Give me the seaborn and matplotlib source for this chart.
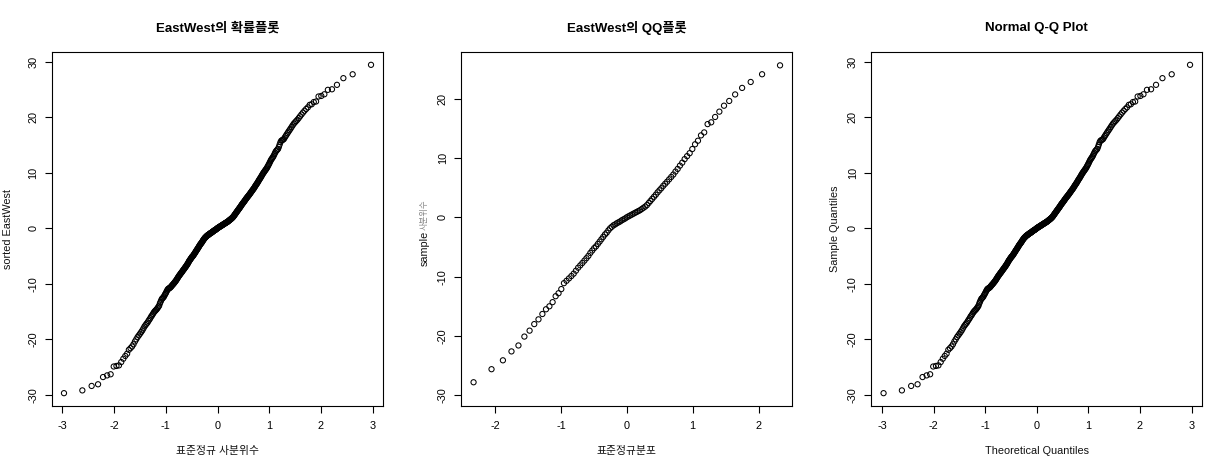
from statistics import NormalDist

import numpy as np
import pandas as pd
import matplotlib
matplotlib.use("Agg")
import matplotlib.pyplot as plt
import seaborn as sns

# sorted EastWest values (n = 336)
east_west_sorted = [
    -29.7, -29.2, -28.4, -28.1, -26.8, -26.5, -26.3, -24.9, -24.8, -24.7,
    -24.1, -23.5, -23.0, -22.6, -21.9, -21.6, -21.3, -20.9, -20.4, -20.0,
    -19.6, -19.3, -19.0, -18.7, -18.4, -18.05, -17.7, -17.45, -17.2, -17.0,
    -16.7, -16.45, -16.2, -15.9, -15.7, -15.45, -15.2, -15.0, -14.85, -14.7,
    -14.55, -14.35, -14.15, -13.95, -13.55, -13.25, -12.95, -12.7, -12.6, -12.45,
    -12.3, -12.05, -11.85, -11.65, -11.4, -11.2, -11.0, -10.9, -10.85, -10.75,
    -10.7, -10.6, -10.45, -10.35, -10.2, -10.1, -10.0, -9.85, -9.75, -9.6,
    -9.5, -9.35, -9.2, -9.05, -8.9, -8.75, -8.6, -8.5, -8.35, -8.25,
    -8.1, -8.0, -7.9, -7.75, -7.65, -7.5, -7.4, -7.3, -7.15, -7.05,
    -6.95, -6.8, -6.7, -6.55, -6.45, -6.3, -6.15, -6.0, -5.85, -5.75,
    -5.65, -5.5, -5.4, -5.3, -5.15, -5.1, -5.0, -4.9, -4.8, -4.65,
    -4.55, -4.45, -4.3, -4.2, -4.05, -3.95, -3.85, -3.7, -3.6, -3.5,
    -3.35, -3.25, -3.1, -3.0, -2.9, -2.8, -2.7, -2.6, -2.5, -2.4,
    -2.25, -2.15, -2.05, -1.95, -1.85, -1.75, -1.7, -1.6, -1.55, -1.48,
    -1.4, -1.33, -1.29, -1.24, -1.2, -1.14, -1.08, -1.02, -0.97, -0.93,
    -0.88, -0.84, -0.79, -0.75, -0.7, -0.64, -0.58, -0.52, -0.47, -0.43,
    -0.38, -0.34, -0.3, -0.25, -0.21, -0.15, -0.09, -0.03, 0.02, 0.07,
    0.11, 0.16, 0.2, 0.25, 0.29, 0.33, 0.38, 0.42, 0.47, 0.51,
    0.56, 0.6, 0.65, 0.69, 0.74, 0.78, 0.83, 0.87, 0.92, 0.96,
    1.0, 1.05, 1.09, 1.14, 1.18, 1.24, 1.3, 1.36, 1.42, 1.48,
    1.53, 1.59, 1.65, 1.71, 1.77, 1.84, 1.92, 1.99, 2.07, 2.17,
    2.28, 2.38, 2.48, 2.59, 2.69, 2.8, 2.9, 3.01, 3.11, 3.22,
    3.32, 3.42, 3.53, 3.63, 3.74, 3.84, 3.96, 4.08, 4.2, 4.31,
    4.41, 4.52, 4.62, 4.72, 4.83, 4.94, 5.06, 5.17, 5.29, 5.4,
    5.5, 5.61, 5.71, 5.81, 5.92, 6.03, 6.14, 6.26, 6.38, 6.5,
    6.62, 6.74, 6.86, 6.98, 7.1, 7.22, 7.37, 7.52, 7.67, 7.8,
    7.94, 8.07, 8.22, 8.38, 8.55, 8.71, 8.86, 9.0, 9.16, 9.33,
    9.51, 9.68, 9.85, 10.0, 10.15, 10.3, 10.45, 10.6, 10.75, 10.93,
    11.14, 11.35, 11.56, 11.8, 12.04, 12.28, 12.46, 12.64, 12.82, 13.04,
    13.31, 13.58, 13.83, 13.98, 14.13, 14.28, 14.64, 15.06, 15.48, 15.74,
    15.83, 15.92, 16.03, 16.3, 16.57, 16.83, 17.1, 17.37, 17.64, 17.91,
    18.21, 18.51, 18.81, 19.04, 19.28, 19.52, 19.82, 20.14, 20.47, 20.8,
    21.13, 21.45, 21.75, 22.2, 22.3, 22.7, 22.8, 23.7, 23.8, 24.1,
    24.9, 25.0, 25.8, 27.0, 27.7, 29.4,
]

# sample percentiles at p = 0.01 ... 0.99 (middle panel)
qq_probs = [round(k / 100, 2) for k in range(1, 100)]
qq_sample = [
    -27.8, -25.6, -24.1, -22.6, -21.6, -20.1, -19.1, -18.0, -17.2, -16.3,
    -15.5, -15.0, -14.3, -13.3, -12.8, -12.1, -11.1, -10.7, -10.3, -9.9,
    -9.5, -9.0, -8.5, -8.1, -7.7, -7.3, -6.9, -6.5, -6.0, -5.6,
    -5.2, -4.9, -4.5, -4.1, -3.7, -3.3, -2.9, -2.6, -2.2, -1.85,
    -1.6, -1.35, -1.2, -1.0, -0.85, -0.7, -0.5, -0.35, -0.2, 0.0,
    0.15, 0.3, 0.45, 0.6, 0.75, 0.9, 1.05, 1.2, 1.4, 1.6,
    1.8, 2.05, 2.4, 2.75, 3.1, 3.45, 3.8, 4.2, 4.55, 4.9,
    5.3, 5.65, 6.0, 6.4, 6.8, 7.2, 7.7, 8.15, 8.7, 9.2,
    9.8, 10.3, 10.8, 11.5, 12.3, 12.9, 13.8, 14.3, 15.7, 16.0,
    16.9, 17.8, 18.8, 19.6, 20.7, 21.8, 22.8, 24.1, 25.6,
]

TITLES = ["EastWest의 확률플롯", "EastWest의 QQ플롯", "Normal Q-Q Plot"]
XLABELS = ["표준정규 사분위수", "표준정규분포", "Theoretical Quantiles"]

sns.set_style("ticks")
FONTS = ["Liberation Sans", "Noto Sans CJK KR", "DejaVu Sans"]
plt.rcParams["font.family"] = FONTS
plt.rcParams["axes.unicode_minus"] = False

nd = NormalDist()
n = len(east_west_sorted)
# R ppoints(n) for n > 10
theo = [nd.inv_cdf((i + 0.5) / n) for i in range(n)]
full_df = pd.DataFrame({"theoretical": theo, "sample": east_west_sorted})
qq_df = pd.DataFrame({"theoretical": [nd.inv_cdf(p) for p in qq_probs],
                      "sample": qq_sample})

W, H = 1229, 471
fig = plt.figure(figsize=(W / 100, H / 100), dpi=100)
fig.patch.set_facecolor("white")

boxes = [(51.7, 383.3), (461.3, 792.3), (871.3, 1202.3)]
top, bottom = 51.7, 406.3
ylab_x = [8.0, 425.0, 835.0]
LABEL_SIZE = 7.8


def r_lim(vals):
    lo, hi = min(vals), max(vals)
    pad = (hi - lo) * 0.04
    return lo - pad, hi + pad


for k, (l, r) in enumerate(boxes):
    ax = fig.add_axes([l / W, (H - bottom) / H, (r - l) / W, (bottom - top) / H])
    df = qq_df if k == 1 else full_df
    sns.scatterplot(data=df, x="theoretical", y="sample", ax=ax,
                    marker="o", s=14, color="black", facecolor="none",
                    edgecolor="black", linewidth=0.75, legend=False)

    ax.set_xlim(*r_lim(df["theoretical"]))
    if k == 1:
        ax.set_ylim(-31.85, 27.9)
        ax.set_xticks([-2, -1, 0, 1, 2])
        ax.set_yticks([-30, -20, -10, 0, 10, 20])
    else:
        ax.set_ylim(*r_lim(df["sample"]))
        ax.set_xticks([-3, -2, -1, 0, 1, 2, 3])
        ax.set_yticks([-30, -20, -10, 0, 10, 20, 30])
    ax.set_xticklabels([str(t) for t in ax.get_xticks().astype(int)])
    ax.set_yticklabels([str(t) for t in ax.get_yticks().astype(int)])

    for sp in ax.spines.values():
        sp.set_visible(True)
        sp.set_linewidth(0.8)
        sp.set_color("black")
    ax.tick_params(direction="out", length=5.2, width=0.8, colors="black",
                   labelsize=LABEL_SIZE, pad=5.5)
    ax.tick_params(axis="y", labelrotation=90, pad=4.5)
    for t in ax.get_yticklabels():
        t.set_va("center")

    ax.set_xlabel(XLABELS[k], fontsize=LABEL_SIZE, color="#111111")
    ax.xaxis.label.set_va("center")
    ax.xaxis.set_label_coords(0.5, (bottom - 450.7) / (bottom - top))

    yx = (ylab_x[k] - l) / (r - l)
    if k == 1:
        ax.set_ylabel("")
        ax.text(yx, 0.445, "sample", rotation=90, transform=ax.transAxes,
                ha="center", va="center", fontsize=LABEL_SIZE, color="#111111")
        ax.text(yx, 0.54, "사분위수", rotation=90, transform=ax.transAxes,
                ha="center", va="center", fontsize=6, color="#888888")
    else:
        ax.set_ylabel("sorted EastWest" if k == 0 else "Sample Quantiles",
                      fontsize=LABEL_SIZE, color="#111111")
        ax.yaxis.label.set_va("center")
        ax.yaxis.set_label_coords(yx, 0.5)

    ax.text(0.5, 1 + (top - 28.3) / (bottom - top), TITLES[k],
            transform=ax.transAxes, ha="center", va="center",
            fontsize=9.5, fontweight="bold", color="black")

fig.savefig("out.png", dpi=100, facecolor="white")
